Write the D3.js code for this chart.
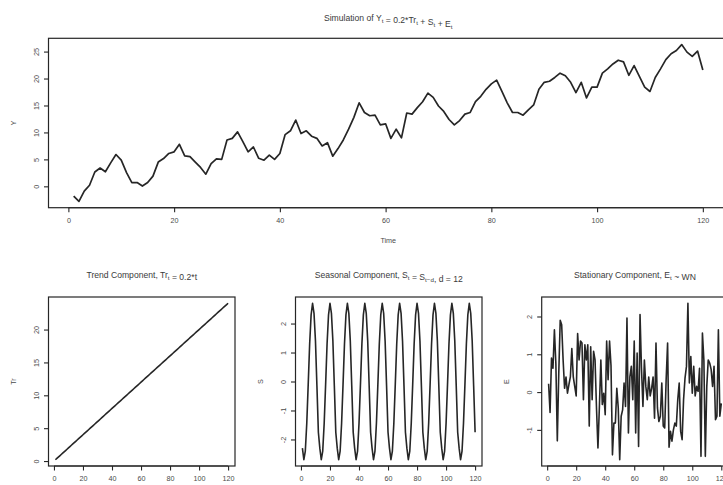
<!DOCTYPE html>
<html>
<head>
<meta charset="utf-8">
<script src="https://cdn.jsdelivr.net/npm/d3@7"></script>
<style>
body { margin: 0; background: #fff; }
svg { display: block; font-family: "Liberation Sans", Arial, sans-serif; }
</style>
</head>
<body>
<svg id="chart" width="723" height="485"></svg>
<script>
// simulated series, t = 1..120
const yValues = [
	-1.8, -2.8, -0.9, 0.2, 2.65, 3.4, 2.7, 4.35, 5.9, 4.85,
	2.55, 0.7, 0.7, 0.05, 0.7, 1.9, 4.5, 5.15, 6.1, 6.4,
	7.8, 5.65, 5.5, 4.5, 3.5, 2.25, 4.2, 5.1, 5.0, 8.6,
	8.9, 10.1, 8.3, 6.4, 7.3, 5.2, 4.85, 5.8, 5.0, 6.1,
	9.6, 10.3, 12.3, 9.8, 10.3, 9.3, 8.9, 7.5, 8.1, 5.6,
	7.0, 8.6, 10.6, 12.8, 15.5, 13.7, 13.1, 13.2, 11.4, 11.6,
	8.9, 10.6, 9.0, 13.6, 13.4, 14.6, 15.7, 17.3, 16.5, 14.9,
	13.9, 12.4, 11.4, 12.2, 13.4, 13.7, 15.7, 16.7, 18.0, 19.0,
	19.7, 17.6, 15.5, 13.7, 13.7, 13.2, 14.2, 15.1, 18.0, 19.3,
	19.5, 20.2, 21.0, 20.5, 19.3, 17.4, 19.3, 16.4, 18.4, 18.4,
	21.0, 21.8, 22.7, 23.4, 23.1, 20.6, 22.4, 20.4, 18.4, 17.6,
	20.2, 21.8, 23.5, 24.6, 25.2, 26.3, 24.9, 24.1, 25.1, 21.6
];

const trendValues = [
	0.2, 0.4, 0.6, 0.8, 1.0, 1.2, 1.4, 1.6, 1.8, 2.0,
	2.2, 2.4, 2.6, 2.8, 3.0, 3.2, 3.4, 3.6, 3.8, 4.0,
	4.2, 4.4, 4.6, 4.8, 5.0, 5.2, 5.4, 5.6, 5.8, 6.0,
	6.2, 6.4, 6.6, 6.8, 7.0, 7.2, 7.4, 7.6, 7.8, 8.0,
	8.2, 8.4, 8.6, 8.8, 9.0, 9.2, 9.4, 9.6, 9.8, 10.0,
	10.2, 10.4, 10.6, 10.8, 11.0, 11.2, 11.4, 11.6, 11.8, 12.0,
	12.2, 12.4, 12.6, 12.8, 13.0, 13.2, 13.4, 13.6, 13.8, 14.0,
	14.2, 14.4, 14.6, 14.8, 15.0, 15.2, 15.4, 15.6, 15.8, 16.0,
	16.2, 16.4, 16.6, 16.8, 17.0, 17.2, 17.4, 17.6, 17.8, 18.0,
	18.2, 18.4, 18.6, 18.8, 19.0, 19.2, 19.4, 19.6, 19.8, 20.0,
	20.2, 20.4, 20.6, 20.8, 21.0, 21.2, 21.4, 21.6, 21.8, 22.0,
	22.2, 22.4, 22.6, 22.8, 23.0, 23.2, 23.4, 23.6, 23.8, 24.0
];

// one row per season (d = 12)
const seasonalValues = [
	-2.3, -2.7, -2.4, -1.45, -0.1, 1.3, 2.3, 2.7, 2.35, 1.4, -0.15, -1.75,
	-2.3, -2.7, -2.4, -1.45, -0.1, 1.3, 2.3, 2.7, 2.35, 1.4, -0.15, -1.75,
	-2.3, -2.7, -2.4, -1.45, -0.1, 1.3, 2.3, 2.7, 2.35, 1.4, -0.15, -1.75,
	-2.3, -2.7, -2.4, -1.45, -0.1, 1.3, 2.3, 2.7, 2.35, 1.4, -0.15, -1.75,
	-2.3, -2.7, -2.4, -1.45, -0.1, 1.3, 2.3, 2.7, 2.35, 1.4, -0.15, -1.75,
	-2.3, -2.7, -2.4, -1.45, -0.1, 1.3, 2.3, 2.7, 2.35, 1.4, -0.15, -1.75,
	-2.3, -2.7, -2.4, -1.45, -0.1, 1.3, 2.3, 2.7, 2.35, 1.4, -0.15, -1.75,
	-2.3, -2.7, -2.4, -1.45, -0.1, 1.3, 2.3, 2.7, 2.35, 1.4, -0.15, -1.75,
	-2.3, -2.7, -2.4, -1.45, -0.1, 1.3, 2.3, 2.7, 2.35, 1.4, -0.15, -1.75,
	-2.3, -2.7, -2.4, -1.45, -0.1, 1.3, 2.3, 2.7, 2.35, 1.4, -0.15, -1.75
];

const noiseValues = [
	0.22, -0.54, 0.9, 0.63, 1.65, 0.75, -1.29, 0.5, 1.9, 1.78,
	0.85, 0.1, 0.4, -0.03, 0.2, 0.4, 1.15, 0.4, 0.15, -0.1,
	1.55, 0.85, 1.35, 1.3, -0.2, 1.25, 0.85, 1.25, -0.9, 1.2,
	-0.2, 1.08, 0.85, -0.42, -1.48, -0.38, 0.85, -0.33, -0.03, -0.6,
	1.35, 0.33, 1.35, 0.7, -1.66, -0.82, -0.82, 0.1, -0.42, -1.79,
	-0.64, -0.47, 0.24, -0.38, 1.96, -1.08, 0.4, 0.68, -0.2, 1.35,
	-1.08, 1.03, -1.44, 2.05, 0.63, -0.38, 0.85, 0.15, -0.2, 0.4,
	-0.1, 0.1, 0.4, -0.69, 1.3, -0.42, -0.78, -0.64, 0.24, -0.9,
	-0.95, 0.33, 1.3, -1.46, -1.04, -1.3, -1.0, -0.82, -0.9, -0.2,
	0.24, -1.04, -1.26, -0.2, 0.37, 0.68, 2.35, 0.24, 0.94, -0.03,
	0.68, -0.1, 0.15, 0.02, 0.63, -1.7, 1.56, 0.85, -1.7, 0.15,
	0.85, 0.77, 0.6, 0.15, 0.68, -0.73, -0.64, 1.65, -0.64, -0.3
];

// tick labels
const timeTicks = [0, 20, 40, 60, 80, 100, 120];
const yTicks = [0, 5, 10, 15, 20, 25];
const trendTicks = [0, 5, 10, 15, 20];
const seasonalTicks = [-2, -1, 0, 1, 2];
const noiseTicks = [-1, 0, 1, 2];

const decomp = {
	vars() {
		this.svg = d3.select('#chart');
		this.ink = '#262626';
		this.textInk = '#4a4a4a';
		this.bottomTop = 297;
		this.bottomBottom = 466;
		this.bottomWidth = 186.5;
	},
	// R pads the data range by 4% each side
	pad([a, b]) {
		const p = (b - a) * 0.04;
		return [a - p, b + p];
	},
	addTitle(g, x, y, parts, size) {
		const t = g.append('text')
			.attr('x', x)
			.attr('y', y)
			.attr('text-anchor', 'middle')
			.attr('font-size', size)
			.attr('fill', '#3a3a3a');
		parts.forEach(p => {
			if (p.sub) {
				t.append('tspan').attr('dy', 2).attr('font-size', size * 0.72).text(p.sub);
				t.append('tspan').attr('dy', -2).text('');
			} else {
				t.append('tspan').text(p.t);
			}
		});
	},
	panel(opt) {
		const {left, right, top, bottom, values, xTicks, yTicks: yt, title, ylab, xlab, lw} = opt;
		const g = this.svg.append('g');
		const xScale = d3.scaleLinear().domain(this.pad([1, values.length])).range([left, right]);
		const yScale = d3.scaleLinear().domain(this.pad(d3.extent(values))).range([bottom, top]);

		/* X AXIS */
		const xAxis = d3.axisBottom(xScale).tickValues(xTicks).tickSize(4.5).tickSizeOuter(0);
		const gx = g.append('g').attr('transform', `translate(0, ${bottom})`).call(xAxis);
		gx.select('.domain').remove();
		gx.selectAll('.tick line').attr('stroke', this.ink).attr('stroke-width', 1.1);
		gx.selectAll('.tick text')
			.attr('y', 10)
			.attr('font-size', 7.2)
			.attr('font-family', null)
			.attr('fill', this.textInk);
		g.append('line')
			.attr('x1', xScale(xTicks[0])).attr('x2', xScale(xTicks[xTicks.length - 1]))
			.attr('y1', bottom).attr('y2', bottom)
			.attr('stroke', this.ink).attr('stroke-width', 1.1);

		/* Y AXIS, labels parallel to the axis */
		const yAxis = d3.axisLeft(yScale).tickValues(yt).tickSize(4.5).tickSizeOuter(0);
		const gy = g.append('g').attr('transform', `translate(${left}, 0)`).call(yAxis);
		gy.select('.domain').remove();
		gy.selectAll('.tick line').attr('stroke', this.ink).attr('stroke-width', 1.1);
		gy.selectAll('.tick text')
			.attr('transform', 'rotate(-90)')
			.attr('x', 0)
			.attr('y', -10)
			.attr('dy', 0)
			.attr('text-anchor', 'middle')
			.attr('font-size', 7.2)
			.attr('font-family', null)
			.attr('fill', this.textInk)
			.text(d => d < 0 ? '-' + Math.abs(d) : d);

		/* BOX */
		g.append('rect')
			.attr('x', left).attr('y', top)
			.attr('width', right - left).attr('height', bottom - top)
			.attr('fill', 'none').attr('stroke', this.ink).attr('stroke-width', 1.2);

		/* SERIES */
		const line = d3.line().x((d, i) => xScale(i + 1)).y(d => yScale(d));
		g.append('path')
			.datum(values)
			.attr('d', line)
			.attr('fill', 'none')
			.attr('stroke', this.ink)
			.attr('stroke-width', lw)
			.attr('stroke-linejoin', 'round');

		/* LABELS */
		g.append('text')
			.attr('transform', `translate(${left - 33}, ${(top + bottom) / 2}) rotate(-90)`)
			.attr('text-anchor', 'middle')
			.attr('font-size', 7.2)
			.attr('fill', this.textInk)
			.text(ylab);
		if (xlab) {
			g.append('text')
				.attr('x', (left + right) / 2)
				.attr('y', bottom + 35)
				.attr('text-anchor', 'middle')
				.attr('font-size', 7.2)
				.attr('fill', this.textInk)
				.text(xlab);
		}
		this.addTitle(g, (left + right) / 2, title.y, title.parts, title.size);
	},
	makeGraphs() {
		this.panel({
			left: 48.5, right: 728, top: 38.3, bottom: 207.7,
			values: yValues, xTicks: timeTicks, yTicks: yTicks, ylab: 'Y', xlab: 'Time', lw: 1.7,
			title: {y: 21, size: 8.6, parts: [
				{t: 'Simulation of Y'}, {sub: 't'}, {t: ' = 0.2*Tr'}, {sub: 't'},
				{t: ' + S'}, {sub: 't'}, {t: ' + E'}, {sub: 't'}
			]}
		});
		const lefts = [48.5, 295.5, 541.7];
		const bottoms = [
			{values: trendValues, ticks: trendTicks, ylab: 'Tr', parts: [
				{t: 'Trend Component, Tr'}, {sub: 't'}, {t: ' = 0.2*t'}]},
			{values: seasonalValues, ticks: seasonalTicks, ylab: 'S', parts: [
				{t: 'Seasonal Component, S'}, {sub: 't'}, {t: ' = S'}, {sub: 't\u2212d'}, {t: ', d = 12'}]},
			{values: noiseValues, ticks: noiseTicks, ylab: 'E', parts: [
				{t: 'Stationary Component, E'}, {sub: 't'}, {t: ' ~ WN'}]}
		];
		bottoms.forEach((b, i) => {
			this.panel({
				left: lefts[i], right: lefts[i] + this.bottomWidth,
				top: this.bottomTop, bottom: this.bottomBottom,
				values: b.values, xTicks: timeTicks, yTicks: b.ticks, ylab: b.ylab, lw: 1.6,
				title: {y: 278, size: 8.6, parts: b.parts}
			});
		});
	},
	init() {
		this.vars();
		this.makeGraphs();
	}
};

decomp.init();
</script>
</body>
</html>
